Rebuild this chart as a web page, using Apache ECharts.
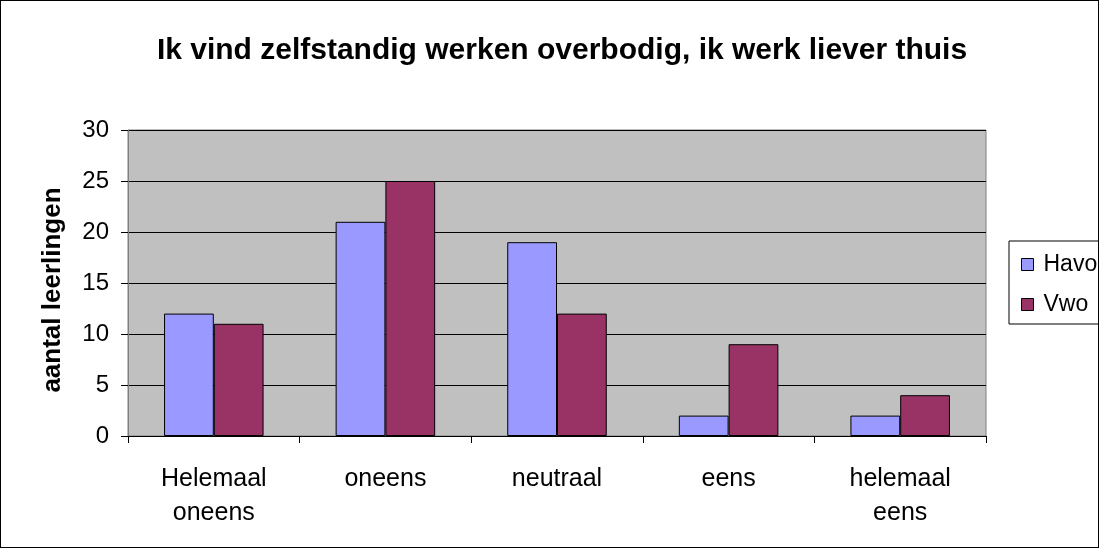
<!DOCTYPE html>
<html>
<head>
<meta charset="utf-8">
<script src="https://cdn.jsdelivr.net/npm/echarts@6/dist/echarts.min.js"></script>
<style>
  html, body { margin: 0; padding: 0; background: #fff; }
  #chart { width: 1099px; height: 548px; box-sizing: border-box; border: 1px solid #000; }
</style>
</head>
<body>
<div id="chart"></div>
<script>
var categories = ['Helemaal\noneens', 'oneens', 'neutraal', 'eens', 'helemaal\neens'];
var havo = [12, 21, 19, 2, 2];
var vwo = [11, 25, 12, 9, 4];
var yTicks = { min: 0, max: 30, interval: 5 };

var chartDom = document.getElementById('chart');
var myChart = echarts.init(chartDom);
var option;

option = {
  animation: false,
  textStyle: { fontFamily: 'Liberation Sans, Arial, sans-serif', color: '#000' },
  title: {
    text: 'Ik vind zelfstandig werken overbodig, ik werk liever thuis',
    left: 556,
    top: 30,
    textAlign: 'center',
    textStyle: { fontSize: 30, fontWeight: 'bold', color: '#000', fontFamily: 'Liberation Sans, Arial, sans-serif' }
  },
  legend: {
    orient: 'vertical',
    left: 1008,
    top: 240,
    padding: [12, 30, 8, 12],
    itemGap: 17,
    itemWidth: 12,
    itemHeight: 12,
    borderColor: '#000',
    borderWidth: 1,
    backgroundColor: '#fff',
    icon: 'rect',
    itemStyle: { borderColor: '#000', borderWidth: 1 },
    textStyle: { fontSize: 23, color: '#000', padding: [0, 0, 0, 5] },
    data: ['Havo', 'Vwo']
  },
  grid: {
    left: 127,
    right: 112,
    top: 129,
    bottom: 111,
    show: true,
    backgroundColor: '#C0C0C0',
    borderColor: '#808080',
    borderWidth: 1
  },
  xAxis: {
    type: 'category',
    data: categories,
    axisLine: { lineStyle: { color: '#000', width: 1 } },
    axisTick: { show: true, length: 7, lineStyle: { color: '#000' } },
    axisLabel: { fontSize: 25, color: '#000', margin: 26, lineHeight: 34 }
  },
  yAxis: {
    type: 'value',
    min: yTicks.min,
    max: yTicks.max,
    interval: yTicks.interval,
    name: 'aantal leerlingen',
    nameLocation: 'middle',
    nameGap: 62,
    nameTextStyle: { fontSize: 26, fontWeight: 'bold', color: '#000', padding: [0, 14, 0, 0] },
    axisLine: { show: true, lineStyle: { color: '#808080' } },
    axisTick: { show: true, length: 7, lineStyle: { color: '#000' } },
    axisLabel: { fontSize: 24, color: '#000', margin: 19 },
    splitLine: { lineStyle: { color: '#000', width: 1 } }
  },
  series: [
    {
      name: 'Havo',
      type: 'bar',
      data: havo,
      barGap: '0%',
      barCategoryGap: '42%',
      itemStyle: { color: '#9999FF', borderColor: '#000', borderWidth: 1 }
    },
    {
      name: 'Vwo',
      type: 'bar',
      data: vwo,
      itemStyle: { color: '#993366', borderColor: '#000', borderWidth: 1 }
    }
  ]
};

option && myChart.setOption(option);
</script>
</body>
</html>
